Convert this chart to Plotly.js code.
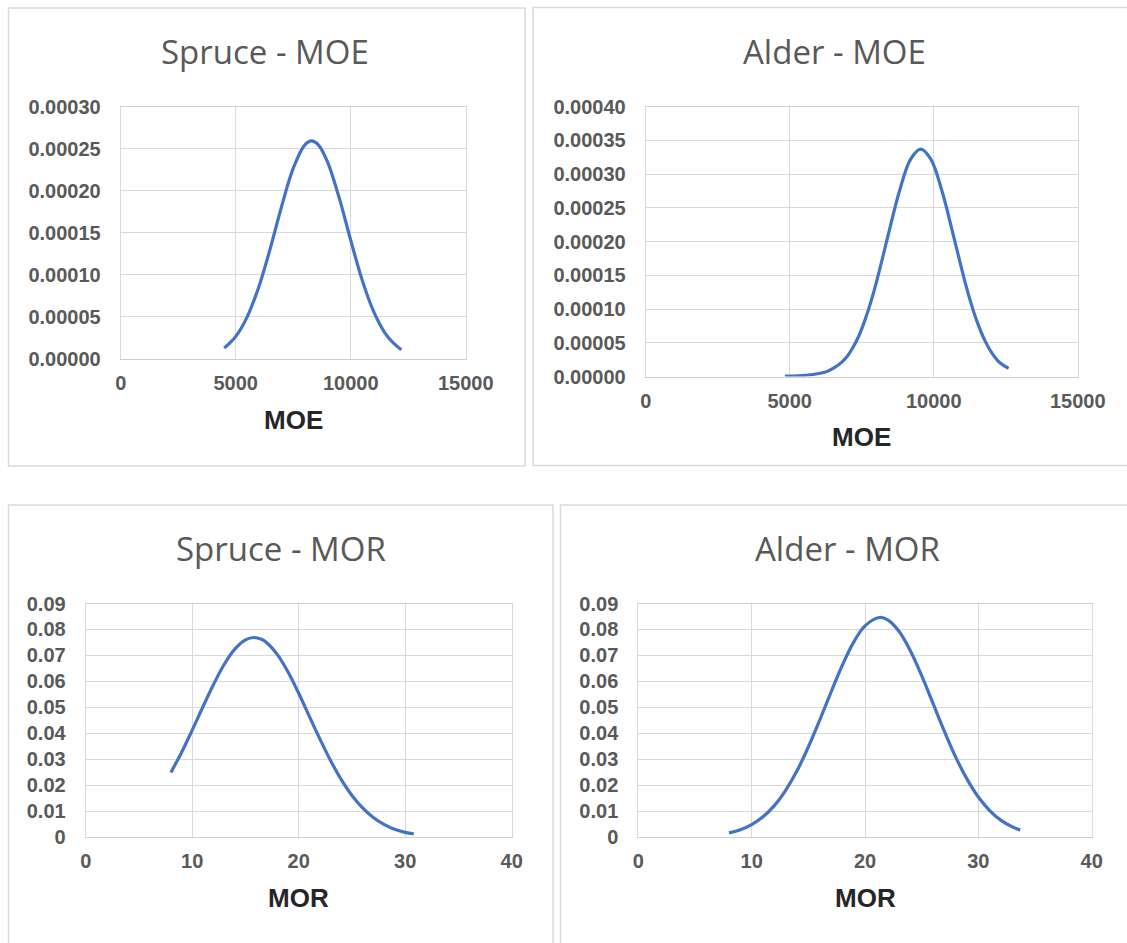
<!DOCTYPE html>
<html>
<head>
<meta charset="utf-8">
<script src="https://cdn.plot.ly/plotly-3.0.1.min.js"></script>
<style>html,body{margin:0;padding:0;background:#fff;}#chart{width:1127px;height:943px;}</style>
</head>
<body>
<div id="chart"></div>
<script>
// ---- Data ----
const spruceMoeX = [4500, 5000, 5500, 6000, 6500, 7000, 7500, 8000, 8300, 8600, 9000, 9500, 10000, 10500, 11000, 11500, 11850, 12200];
const spruceMoeY = [0.0000123, 0.0000261, 0.0000496, 0.0000849, 0.0001308, 0.0001814, 0.0002263, 0.0002541, 0.000259, 0.0002541, 0.0002336, 0.0001912, 0.0001409, 0.0000933, 0.0000557, 0.0000299, 0.0000185, 0.0000105];

const alderMoeX = [4834, 5300, 5800, 6300, 6550, 6800, 7000, 7200, 7400, 7600, 7800, 8000, 8400, 8800, 9200, 9550, 9900, 10300, 10700, 11100, 11300, 11500, 11750, 12000, 12300, 12600];
const alderMoeY = [0.0000005, 0.000001, 0.000003, 0.0000075, 0.000013, 0.000021, 0.000030, 0.0000433, 0.000060, 0.000082, 0.000108, 0.000138, 0.000206, 0.000273, 0.000322, 0.000337, 0.000322, 0.000273, 0.000206, 0.000138, 0.000108, 0.000082, 0.0000558, 0.0000362, 0.0000203, 0.000012];

const spruceMorX = [8, 9, 10, 11, 12, 13, 14, 15, 15.8, 16.5, 17, 18, 19, 20, 21, 22, 23, 24, 25, 26, 27, 28, 29, 30, 30.8];
const spruceMorY = [0.0249, 0.0326, 0.0412, 0.0501, 0.0588, 0.0665, 0.0724, 0.0760, 0.0769, 0.0762, 0.0749, 0.0703, 0.0636, 0.0554, 0.0465, 0.0377, 0.0294, 0.0221, 0.0160, 0.0112, 0.0075, 0.0049, 0.0030, 0.0018, 0.0012];

const alderMorX = [8, 9, 10, 11, 12, 13, 14, 15, 16, 17, 18, 19, 20, 21.3, 22, 23, 24, 25, 26, 27, 28, 29, 30, 31, 32, 33, 33.7];
const alderMorY = [0.0016, 0.0028, 0.0048, 0.0078, 0.0121, 0.0180, 0.0255, 0.0347, 0.0450, 0.0558, 0.0662, 0.0751, 0.0814, 0.0846, 0.0837, 0.0793, 0.0718, 0.0622, 0.0515, 0.0408, 0.0308, 0.0223, 0.0154, 0.0102, 0.0064, 0.0039, 0.0027];

const panelTitles = ["Spruce - MOE", "Alder - MOE", "Spruce - MOR", "Alder - MOR"];
const xTitles = ["MOE", "MOE", "MOR", "MOR"];

// ---- Layout helpers (pixel -> paper) ----
const W = 1127, H = 943;
const px = v => v / W;
const py = v => 1 - v / H;

const lineColor = '#4472C4';
const tickFont = {family: 'Arial, "Liberation Sans", sans-serif', size: 20, color: '#595959', weight: 700};
const gridColor = '#d9d9d9';

function trace(x, y, xa, ya) {
  return {x: x, y: y, xaxis: xa, yaxis: ya, type: 'scatter', mode: 'lines',
    line: {color: lineColor, width: 3.2, shape: 'spline', smoothing: 1}, showlegend: false, hoverinfo: 'x+y'};
}

const data = [
  trace(spruceMoeX, spruceMoeY, 'x', 'y'),
  trace(alderMoeX, alderMoeY, 'x2', 'y2'),
  trace(spruceMorX, spruceMorY, 'x3', 'y3'),
  trace(alderMorX, alderMorY, 'x4', 'y4')
];

function xax(domain, range, dtick, anchor, fmt) {
  return {domain: domain, range: range, dtick: dtick, tick0: 0, anchor: anchor, tickformat: fmt,
    showgrid: true, gridcolor: gridColor, gridwidth: 1, zeroline: false,
    showline: true, mirror: true, linecolor: '#cfcfcf', linewidth: 1,
    ticks: '', ticklabelstandoff: 6, tickfont: tickFont, fixedrange: true};
}
function yax(domain, range, dtick, anchor, fmt) {
  return {domain: domain, range: range, dtick: dtick, tick0: 0, anchor: anchor, tickformat: fmt,
    showgrid: true, gridcolor: gridColor, gridwidth: 1, zeroline: false,
    showline: true, mirror: true, linecolor: gridColor, linewidth: 1,
    ticks: '', ticklabelstandoff: 15, tickfont: tickFont, fixedrange: true};
}

const P = [
  {x: [120.7, 465.7], y: [106.5, 358.5]},
  {x: [645.7, 1077.7], y: [106.5, 376.5]},
  {x: [85.7, 511.7], y: [603.5, 837]},
  {x: [638.3, 1091.7], y: [603.5, 837]}
];
const dom = P.map(p => ({x: [px(p.x[0]), px(p.x[1])], y: [py(p.y[1]), py(p.y[0])]}));

const titlePos = [[265, 51], [834, 51], [280.5, 548], [847, 548]];
const xTitlePos = [[293, 420], [861.7, 437], [298.7, 898], [865, 898]];

const annotations = [];
panelTitles.forEach((t, i) => annotations.push({text: t, xref: 'paper', yref: 'paper',
  x: px(titlePos[i][0]), y: py(titlePos[i][1]), xanchor: 'center', yanchor: 'middle', showarrow: false,
  font: {family: '"Open Sans", sans-serif', size: 33, color: '#595959'}}));
xTitles.forEach((t, i) => annotations.push({text: t, xref: 'paper', yref: 'paper',
  x: px(xTitlePos[i][0]), y: py(xTitlePos[i][1]), xanchor: 'center', yanchor: 'middle', showarrow: false,
  font: {family: 'Arial, "Liberation Sans", sans-serif', size: 26, color: '#262626', weight: 700}}));

const boxes = [[8.5, 8, 525, 466], [533, 7.5, 1130, 465.5], [8.5, 505, 553, 950], [560.5, 505, 1130, 950]];
const shapes = boxes.map(b => ({type: 'rect', xref: 'paper', yref: 'paper',
  x0: px(b[0]), x1: px(b[2]), y0: py(b[3]), y1: py(b[1]),
  line: {color: '#d9d9d9', width: 1.5}, fillcolor: 'rgba(0,0,0,0)', layer: 'below'}));

const layout = {
  width: W, height: H, autosize: false,
  margin: {l: 0, r: 0, t: 0, b: 0, pad: 0},
  paper_bgcolor: '#ffffff', plot_bgcolor: '#ffffff',
  showlegend: false,
  xaxis: xax(dom[0].x, [0, 15000], 5000, 'y', 'd'),
  yaxis: yax(dom[0].y, [0, 0.0003], 0.00005, 'x', '.5f'),
  xaxis2: xax(dom[1].x, [0, 15000], 5000, 'y2', 'd'),
  yaxis2: yax(dom[1].y, [0, 0.0004], 0.00005, 'x2', '.5f'),
  xaxis3: xax(dom[2].x, [0, 40], 10, 'y3', 'd'),
  yaxis3: yax(dom[2].y, [0, 0.09], 0.01, 'x3', ''),
  xaxis4: xax(dom[3].x, [0, 40], 10, 'y4', 'd'),
  yaxis4: yax(dom[3].y, [0, 0.09], 0.01, 'x4', ''),
  annotations: annotations,
  shapes: shapes
};

Plotly.newPlot('chart', data, layout, {displayModeBar: false});
</script>
</body>
</html>
